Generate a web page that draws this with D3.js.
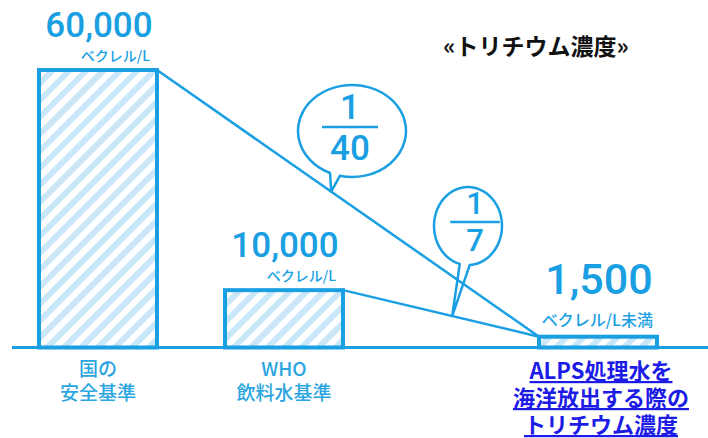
<!DOCTYPE html>
<html>
<head>
<meta charset="utf-8">
<script src="https://cdn.jsdelivr.net/npm/d3@7"></script>
<style>
  html, body { margin: 0; padding: 0; background: #fff; }
  svg { display: block; }
</style>
</head>
<body>
<div id="chart"></div>
<script>
// data
const categories = ["国の安全基準", "WHO飲料水基準", "ALPS処理水"];
const labelLines = [["国の", "安全基準"], ["WHO", "飲料水基準"], ["ALPS処理水を", "海洋放出する際の", "トリチウム濃度"]];
const values = [60000, 10000, 1500];
const units = ["ベクレル/L", "ベクレル/L", "ベクレル/L未満"];
const ratios = [["1", "40"], ["1", "7"]];
const title = "«トリチウム濃度»";

const W = 708, H = 438;
const blue = "#1a9fe2", light = "#c9e7f8";
const numFont = "Roboto, 'Liberation Sans', sans-serif";
const jpFont = "'Noto Sans CJK JP', sans-serif";

const svg = d3.select("#chart").append("svg")
  .attr("width", W).attr("height", H)
  .attr("viewBox", `0 0 ${W} ${H}`);

const defs = svg.append("defs");
const pat = defs.append("pattern")
  .attr("id", "hatch")
  .attr("patternUnits", "userSpaceOnUse")
  .attr("width", 12).attr("height", 12)
  .attr("patternTransform", "rotate(45)");
pat.append("rect").attr("width", 12).attr("height", 12).attr("fill", "#fff");
pat.append("rect").attr("width", 6).attr("height", 12).attr("fill", light);

// illustrative chart: bars are not linear, a power scale gets close
const baseY = 347.5;
const y = d3.scalePow().exponent(0.88).domain([0, 60000]).range([baseY, 70]);
const x = d3.scaleOrdinal().domain(categories).range([98, 284, 598]);
const barW = 118;

// baseline
svg.append("line")
  .attr("x1", 12).attr("x2", W)
  .attr("y1", baseY).attr("y2", baseY)
  .attr("stroke", blue).attr("stroke-width", 3);

const data = categories.map((c, i) => ({ cat: c, value: values[i], unit: units[i], lines: labelLines[i], i }));

svg.append("g").selectAll("rect")
  .data(data)
  .join("rect")
  .attr("x", d => x(d.cat) - barW / 2)
  .attr("y", d => y(d.value))
  .attr("width", barW)
  .attr("height", d => baseY - y(d.value))
  .attr("fill", "url(#hatch)")
  .attr("stroke", blue)
  .attr("stroke-width", 4);

// connector lines (top-right corners to top-left of last bar)
const last = data[data.length - 1];
const end = [x(last.cat) - barW / 2, y(last.value)];
const connectors = data.slice(0, -1).map(d => [[x(d.cat) + barW / 2, y(d.value)], end]);

// ratio bubbles
const bubbles = [
  { c: [352, 131], rx: 54, ry: 46, tail: [114, 103], line: 0, at: 0.456, tx: 350, size: 35 },
  { c: [468, 226], rx: 34, ry: 39, tail: [104, 87], line: 1, at: 0.557, tx: 475, size: 31 }
];
const bg = svg.append("g");
bubbles.forEach((b, k) => {
  const [p0, p1] = connectors[b.line];
  const tip = [p0[0] + (p1[0] - p0[0]) * b.at, p0[1] + (p1[1] - p0[1]) * b.at];
  const pt = a => [b.c[0] + b.rx * Math.cos(a * Math.PI / 180), b.c[1] + b.ry * Math.sin(a * Math.PI / 180)];
  const A = pt(b.tail[0]), B = pt(b.tail[1]);
  bg.append("path")
    .attr("d", `M${B}A${b.rx},${b.ry} 0 1 0 ${A}L${tip}Z`)
    .attr("fill", "#fff")
    .attr("stroke", blue)
    .attr("stroke-width", 2.5)
    .attr("stroke-linejoin", "round");
  const half = b.size * 0.8;
  bg.append("line")
    .attr("x1", b.tx - half).attr("x2", b.tx + half)
    .attr("y1", b.c[1] - 4).attr("y2", b.c[1] - 4)
    .attr("stroke", blue).attr("stroke-width", 2.5);
  bg.append("text")
    .attr("x", b.tx).attr("y", b.c[1] - 12)
    .attr("text-anchor", "middle")
    .attr("font-family", numFont).attr("font-weight", 500)
    .attr("font-size", b.size).attr("fill", blue)
    .text(ratios[k][0]);
  bg.append("text")
    .attr("x", b.tx).attr("y", b.c[1] - 4 + b.size * 0.95)
    .attr("text-anchor", "middle")
    .attr("font-family", numFont).attr("font-weight", 500)
    .attr("font-size", b.size).attr("fill", blue)
    .text(ratios[k][1]);
});

svg.append("g").selectAll("line")
  .data(connectors)
  .join("line")
  .attr("x1", d => d[0][0]).attr("y1", d => d[0][1])
  .attr("x2", d => d[1][0]).attr("y2", d => d[1][1])
  .attr("stroke", blue).attr("stroke-width", 2.5);

// value labels
const fmt = d3.format(",");
const isLast = d => d.i === data.length - 1;
svg.append("g").selectAll("text")
  .data(data)
  .join("text")
  .attr("x", d => x(d.cat) + 1)
  .attr("y", d => y(d.value) - (isLast(d) ? 43 : 33))
  .attr("text-anchor", "middle")
  .attr("font-family", numFont).attr("font-weight", 500)
  .attr("font-size", d => isLast(d) ? 43 : 35)
  .attr("fill", blue)
  .text(d => fmt(d.value));

svg.append("g").selectAll("text")
  .data(data)
  .join("text")
  .attr("x", d => x(d.cat) + (isLast(d) ? 55 : 52))
  .attr("y", d => y(d.value) - (isLast(d) ? 11 : 9))
  .attr("text-anchor", "end")
  .attr("font-family", jpFont).attr("font-weight", 500)
  .attr("font-size", d => isLast(d) ? 16 : 14)
  .attr("fill", blue)
  .text(d => d.unit);

// category labels
const cat = svg.append("g").selectAll("text")
  .data(data)
  .join("text")
  .attr("text-anchor", "middle")
  .attr("font-family", jpFont)
  .attr("font-weight", d => isLast(d) ? 700 : 500)
  .attr("font-size", d => isLast(d) ? 22 : 19)
  .attr("fill", d => isLast(d) ? "#1c1ce6" : "#2aa5e0")
  .attr("text-decoration", d => isLast(d) ? "underline" : null);
cat.selectAll("tspan")
  .data(d => d.lines.map((t, j) => ({ t, j, last: isLast(d), x: x(d.cat) + (isLast(d) ? 3 : 0) })))
  .join("tspan")
  .attr("x", d => d.x)
  .attr("y", d => d.last ? 379 + d.j * 27 : 376 + d.j * 24)
  .text(d => d.t);

// title
svg.append("text")
  .attr("x", 536).attr("y", 55)
  .attr("text-anchor", "middle")
  .attr("font-family", jpFont).attr("font-weight", 700)
  .attr("font-size", 23).attr("fill", "#111")
  .text(title);
</script>
</body>
</html>
